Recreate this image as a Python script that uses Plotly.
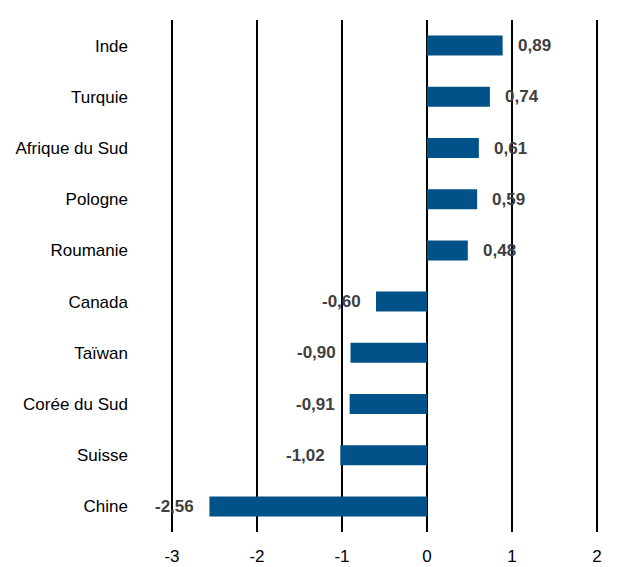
import plotly.graph_objects as go

countries = ["Inde", "Turquie", "Afrique du Sud", "Pologne", "Roumanie",
             "Canada", "Taïwan", "Corée du Sud", "Suisse", "Chine"]
values = [0.89, 0.74, 0.61, 0.59, 0.48, -0.60, -0.90, -0.91, -1.02, -2.56]
x_ticks = [-3, -2, -1, 0, 1, 2]

bar_color = "#005288"
label_color = "#404040"
FONT = "Liberation Sans, Arial, sans-serif"

fig = go.Figure()
fig.add_trace(go.Bar(
    x=values, y=countries, orientation="h",
    marker=dict(color=bar_color, line=dict(width=0)),
    width=0.39, hoverinfo="skip",
))

for c, v in zip(countries, values):
    fig.add_annotation(
        x=v, y=c, xref="x", yref="y",
        text="<b>" + f"{v:.2f}".replace(".", ",") + "</b>",
        showarrow=False,
        xanchor="left" if v >= 0 else "right",
        xshift=13 if v >= 0 else -13,
        font=dict(family=FONT, size=17, color=label_color),
    )

fig.update_layout(
    width=611, height=559,
    margin=dict(l=163, r=21, t=12, b=35),
    plot_bgcolor="white", paper_bgcolor="white",
    showlegend=False,
    font=dict(family=FONT, size=17, color="black"),
    xaxis=dict(
        range=[-3.012, 2.012], tickvals=x_ticks, ticktext=[str(t) for t in x_ticks],
        showgrid=True, gridcolor="black", gridwidth=2,
        zeroline=True, zerolinecolor="black", zerolinewidth=2,
        showline=False, ticks="", ticklabelstandoff=12, automargin=False,
        tickfont=dict(family=FONT, size=17, color="black"),
    ),
    yaxis=dict(
        categoryorder="array", categoryarray=countries[::-1],
        showgrid=False, zeroline=False, showline=False, ticks="",
        ticklabelstandoff=42, automargin=False,
        tickfont=dict(family=FONT, size=17, color="black"),
    ),
)

fig.write_html("out.html")
